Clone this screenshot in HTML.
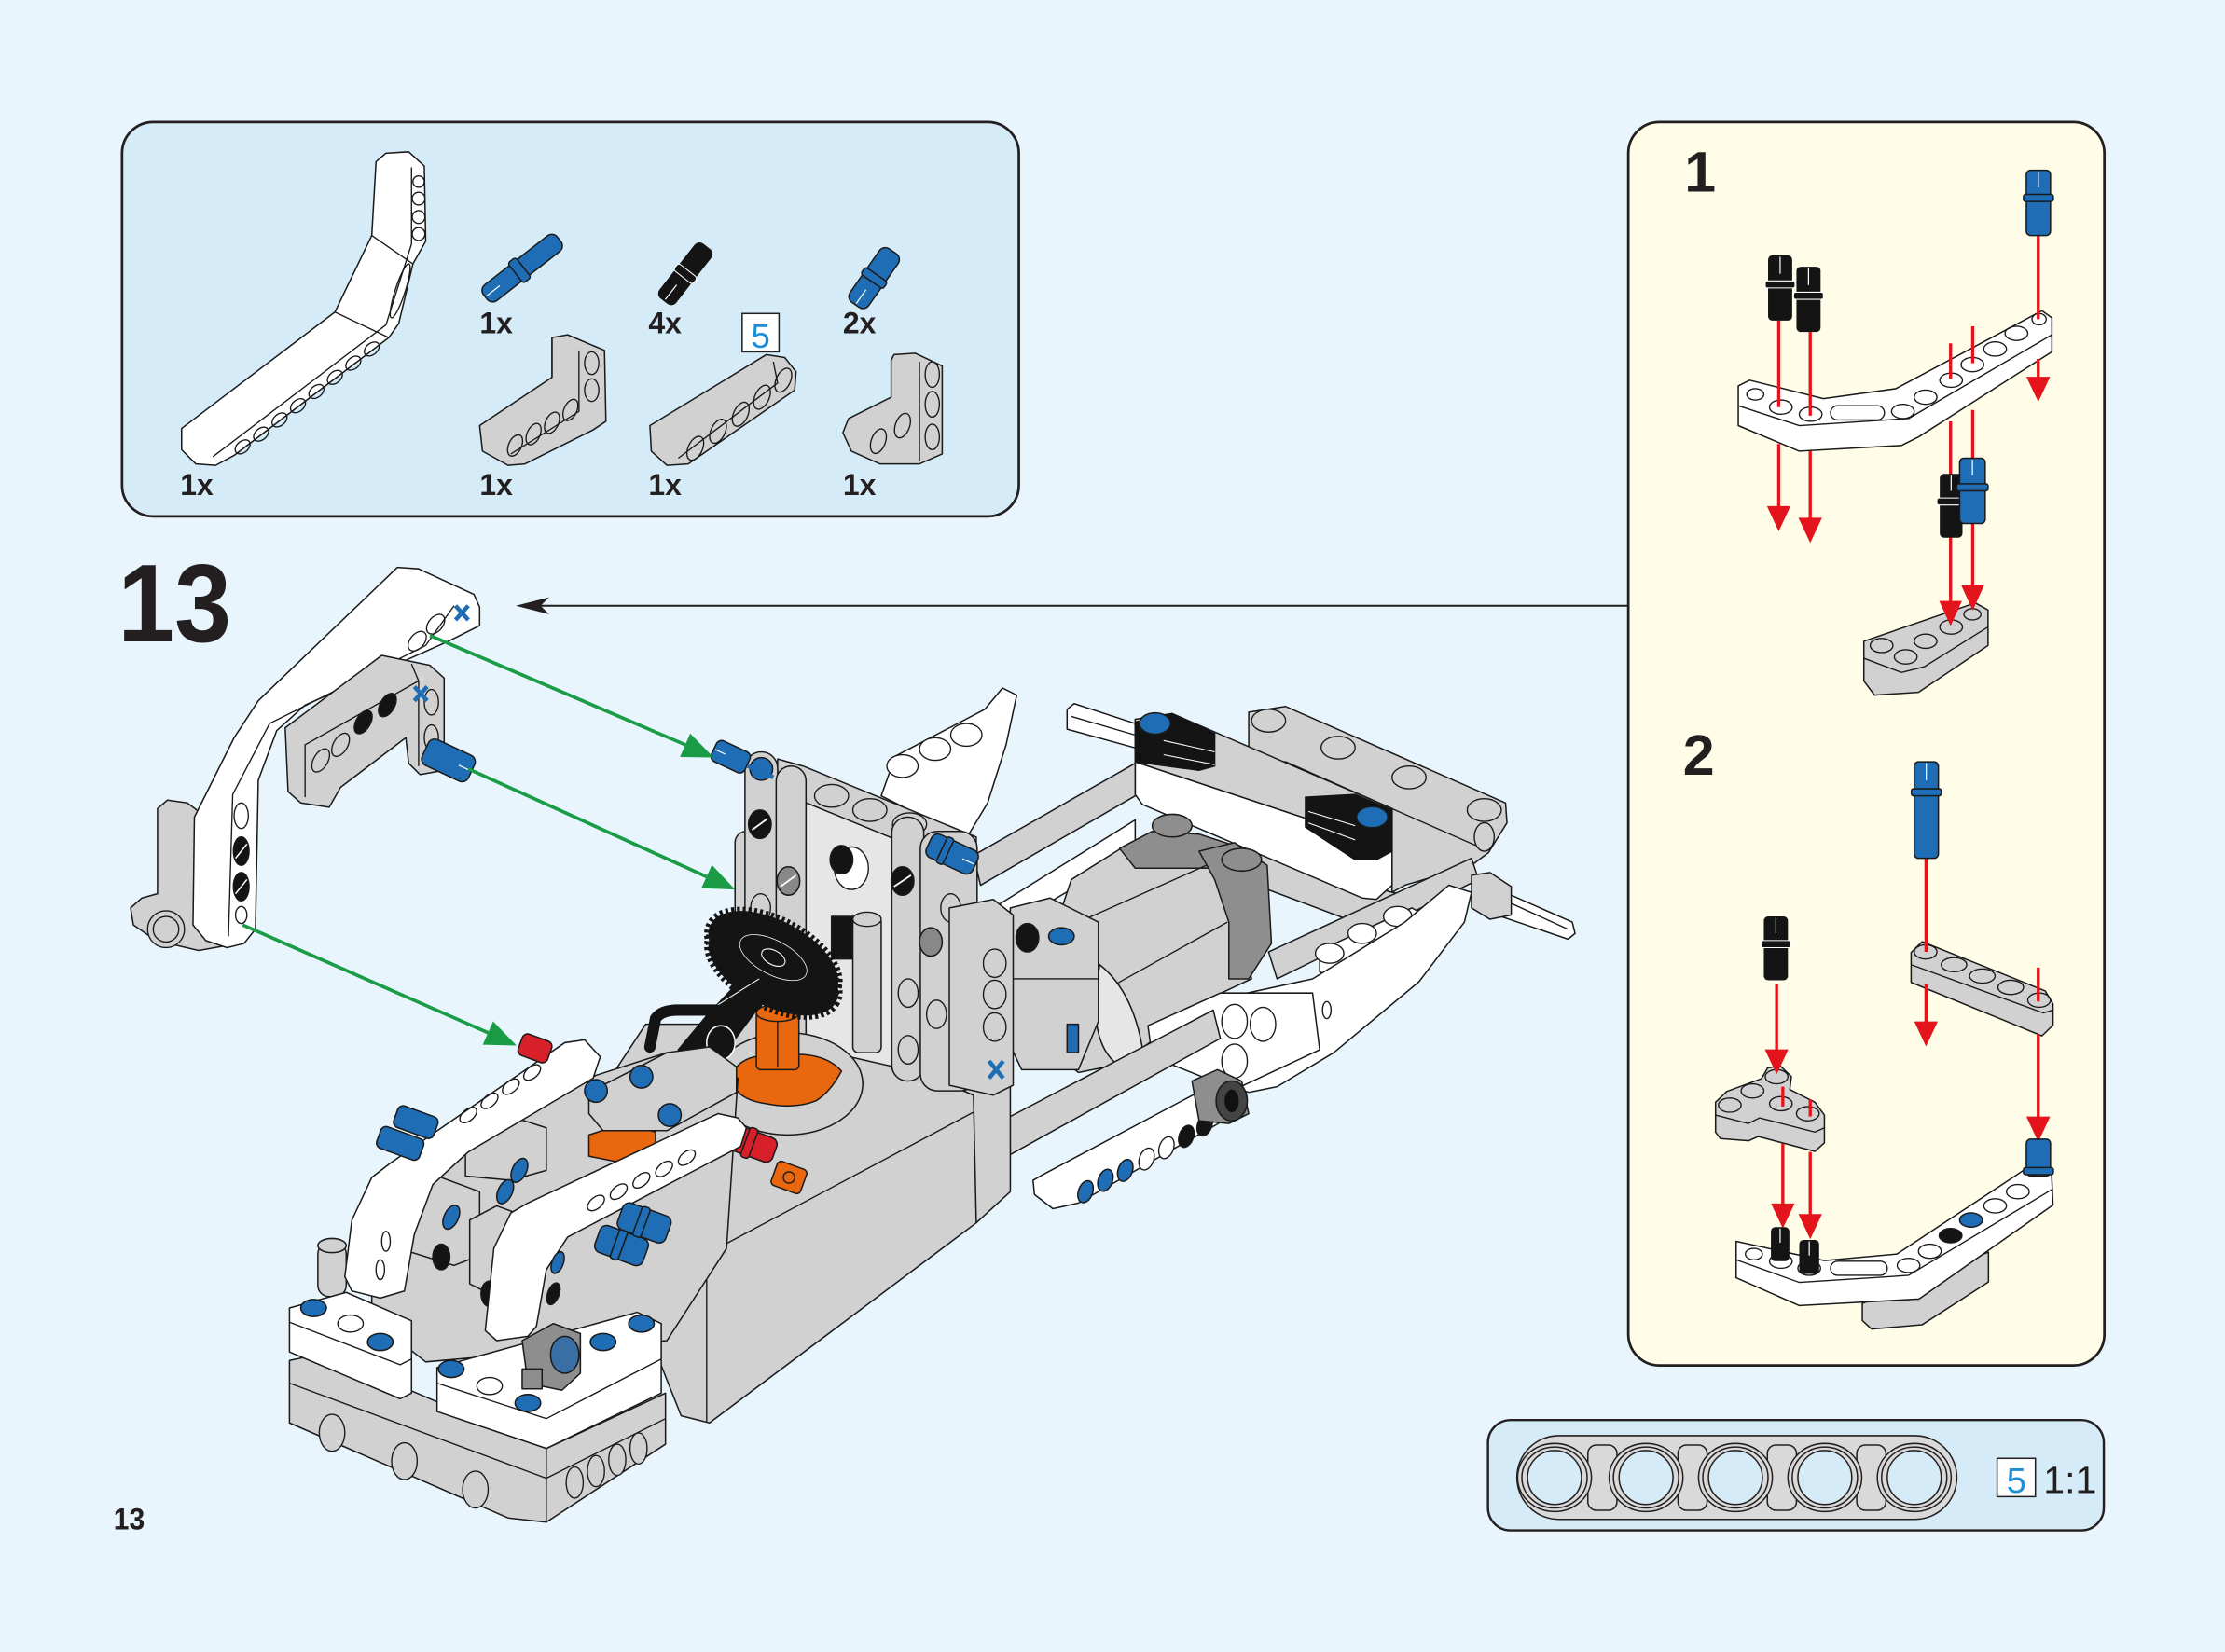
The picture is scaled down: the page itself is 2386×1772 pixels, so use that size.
<!DOCTYPE html>
<html><head><meta charset="utf-8">
<style>
html,body{margin:0;padding:0;background:#e8f5fc;}
svg{display:block}
</style></head><body>
<svg xmlns="http://www.w3.org/2000/svg" width="2386" height="1772" viewBox="0 0 1568 1164.5">
<style>
.o{stroke:#1a1a1a;stroke-width:1;stroke-linejoin:round;stroke-linecap:round}
.g{fill:#d1d1d1}.w{fill:#fff}.k{fill:#141414}.b{fill:#1f6db4}.dg{fill:#8e8e8e}.rd{fill:#d8202a}.or{fill:#e8670f}.lg{fill:#e6e6e6}
.h{fill:none;stroke:#1a1a1a;stroke-width:0.9}
.hw{fill:#fff;stroke:#1a1a1a;stroke-width:0.9}
.hg{fill:#d1d1d1;stroke:#1a1a1a;stroke-width:0.9}
.t{font-family:"Liberation Sans",Arial,sans-serif;font-weight:bold;fill:#231f20}
.ra{stroke:#e3141c;stroke-width:2.2;fill:none}
.rf{fill:#e3141c}
.ga{stroke:#1a9b45;stroke-width:2.4;fill:none}
.gf{fill:#1a9b45}
</style>
<rect width="1568" height="1164.5" fill="#e8f5fc"/>

<!-- ================= PARTS BOX ================= -->
<rect x="86" y="86" width="632" height="278" rx="22" fill="#d5ecf8" stroke="#231f20" stroke-width="1.8"/>
<polygon class="o w" points="265,114 272,108 288,107 299,117 300,170 291,186 281,228 274,238 165,321 152,328 138,327 128,317 128,302 236,220 262,166"/>
<polyline class="h" points="290,118 290,172 272,229 150,322"/>
<line class="h" x1="262" y1="166" x2="291" y2="186"/>
<line class="h" x1="236" y1="220" x2="274" y2="238"/>
<g class="h">
<circle cx="295" cy="128" r="4"/><circle cx="295" cy="140" r="4.5"/><circle cx="295" cy="153" r="4.5"/><circle cx="295" cy="165" r="4.5"/>
<ellipse cx="282" cy="205" rx="3.5" ry="20" transform="rotate(18 282 205)"/>
<ellipse cx="262" cy="246" rx="4" ry="6" transform="rotate(50 262 246)"/>
<ellipse cx="249" cy="256" rx="4" ry="6" transform="rotate(50 249 256)"/>
<ellipse cx="236" cy="266" rx="4" ry="6" transform="rotate(50 236 266)"/>
<ellipse cx="223" cy="276" rx="4" ry="6" transform="rotate(50 223 276)"/>
<ellipse cx="210" cy="286" rx="4" ry="6" transform="rotate(50 210 286)"/>
<ellipse cx="197" cy="296" rx="4" ry="6" transform="rotate(50 197 296)"/>
<ellipse cx="184" cy="306" rx="4" ry="6" transform="rotate(50 184 306)"/>
<ellipse cx="171" cy="315" rx="4" ry="6" transform="rotate(50 171 315)"/>
</g>
<g transform="translate(368,189) rotate(-38)">
<rect class="o b" x="-33" y="-7" width="66" height="14" rx="5"/>
<rect class="o b" x="-6" y="-9" width="7" height="18" rx="2"/>
<line x1="-32" y1="0" x2="-20" y2="0" stroke="#fff" stroke-width="0.8"/>
</g>
<g transform="translate(483,193) rotate(-52)">
<rect x="-24" y="-7" width="48" height="14" rx="4" fill="#141414" stroke="#141414"/>
<rect x="-3" y="-8.5" width="6" height="17" rx="2" fill="#141414" stroke="#fff" stroke-width="0.7"/>
<line x1="-23" y1="0" x2="-10" y2="0" stroke="#fff" stroke-width="0.8"/>
</g>
<g transform="translate(616,196) rotate(-55)">
<rect class="o b" x="-23" y="-8" width="46" height="16" rx="5"/>
<rect class="o b" x="-3" y="-9.5" width="6" height="19" rx="2"/>
<line x1="-22" y1="0" x2="-10" y2="0" stroke="#fff" stroke-width="0.8"/>
</g>
<polygon class="o g" points="389,238 400,236 426,247 427,297 418,303 370,327 358,328 340,318 338,300 389,266"/>
<polyline class="h" points="389,238 389,266"/>
<polyline class="h" points="408,247 408,290 360,320"/>
<g class="h">
<ellipse cx="417" cy="256" rx="5" ry="8"/><ellipse cx="417" cy="275" rx="5" ry="8"/>
<ellipse cx="402" cy="289" rx="4.5" ry="8" transform="rotate(25 402 289)"/>
<ellipse cx="389" cy="298" rx="4.5" ry="8" transform="rotate(25 389 298)"/>
<ellipse cx="376" cy="306" rx="4.5" ry="8" transform="rotate(25 376 306)"/>
<ellipse cx="363" cy="314" rx="4.5" ry="8" transform="rotate(25 363 314)"/>
</g>
<polygon class="o g" points="540,250 553,252 561,262 560,275 485,327 470,328 459,318 458,300"/>
<polyline class="h" points="545,255 548,270 478,323"/>
<g class="h">
<ellipse cx="552" cy="268" rx="5" ry="9" transform="rotate(25 552 268)"/>
<ellipse cx="537" cy="280" rx="5" ry="9" transform="rotate(25 537 280)"/>
<ellipse cx="522" cy="292" rx="5" ry="9" transform="rotate(25 522 292)"/>
<ellipse cx="506" cy="304" rx="5" ry="9" transform="rotate(25 506 304)"/>
<ellipse cx="490" cy="316" rx="5" ry="9" transform="rotate(25 490 316)"/>
</g>
<polygon class="o g" points="630,250 645,249 664,258 664,320 648,327 620,327 600,318 594,305 598,295 628,280 628,254"/>
<polyline class="h" points="648,255 648,325"/>
<g class="h">
<ellipse cx="657" cy="264" rx="5" ry="9"/><ellipse cx="657" cy="285" rx="5" ry="9"/><ellipse cx="657" cy="308" rx="5" ry="9"/>
<ellipse cx="636" cy="300" rx="5" ry="9" transform="rotate(20 636 300)"/>
<ellipse cx="619" cy="311" rx="5" ry="9" transform="rotate(20 619 311)"/>
</g>
<rect x="523" y="221" width="26" height="27" fill="#fff" stroke="#231f20" stroke-width="1"/>
<text x="536" y="245" text-anchor="middle" font-family="Liberation Sans, Arial, sans-serif" font-size="24" fill="#1b8fd8">5</text>
<text class="t" x="338" y="235" font-size="21">1x</text>
<text class="t" x="457" y="235" font-size="21">4x</text>
<text class="t" x="594" y="235" font-size="21">2x</text>
<text class="t" x="127" y="349" font-size="21">1x</text>
<text class="t" x="338" y="349" font-size="21">1x</text>
<text class="t" x="457" y="349" font-size="21">1x</text>
<text class="t" x="594" y="349" font-size="21">1x</text>

<!-- ================= STEP NUMBER ================= -->
<text class="t" x="83" y="452" font-size="78" textLength="80" lengthAdjust="spacingAndGlyphs">13</text>
<text class="t" x="80" y="1078" font-size="21" textLength="22" lengthAdjust="spacingAndGlyphs">13</text>

<!-- ================= RIGHT PANEL ================= -->
<rect x="1147.5" y="86" width="335.5" height="876.5" rx="22" fill="#fffde7" stroke="#231f20" stroke-width="1.8"/>
<text class="t" x="1187" y="135" font-size="40">1</text>
<text class="t" x="1186" y="546" font-size="40">2</text>

<polygon class="o w" points="1225,272 1233,268 1285,281 1336,274 1439,219 1446,224 1446,248 1352,308 1340,314 1268,318 1225,300"/>
<polyline class="h" points="1225,286 1268,300 1345,295 1446,236"/>
<g class="h">
<ellipse cx="1237" cy="278" rx="6" ry="4"/>
<ellipse cx="1255" cy="287" rx="8" ry="5"/><ellipse cx="1276" cy="292" rx="8" ry="5"/>
<rect x="1290" y="286" width="38" height="10" rx="5"/>
<ellipse cx="1341" cy="290" rx="8" ry="5"/><ellipse cx="1357" cy="280" rx="8" ry="5"/>
<ellipse cx="1375" cy="268" rx="8" ry="5"/><ellipse cx="1390" cy="257" rx="8" ry="5"/>
<ellipse cx="1406" cy="246" rx="8" ry="5"/><ellipse cx="1421" cy="235" rx="8" ry="5"/>
<ellipse cx="1437" cy="225" rx="5" ry="4"/>
</g>
<polygon class="o g" points="1313.5,452 1392,425 1401,430 1401,455 1352,488 1321,490 1313.5,480"/>
<polyline class="h" points="1313.5,464 1340,474 1356,470 1401,442"/>
<g class="h">
<ellipse cx="1326" cy="455" rx="8" ry="5"/><ellipse cx="1343" cy="463" rx="8" ry="5"/>
<ellipse cx="1357" cy="452" rx="8" ry="5"/><ellipse cx="1375" cy="442" rx="8" ry="5"/><ellipse cx="1390" cy="433" rx="6" ry="4"/>
</g>
<g class="ra">
<line x1="1436.4" y1="166" x2="1436.4" y2="225"/><line x1="1436.4" y1="253" x2="1436.4" y2="268"/>
<line x1="1253.5" y1="226" x2="1253.5" y2="287"/><line x1="1253.5" y1="313" x2="1253.5" y2="358"/>
<line x1="1275.7" y1="234" x2="1275.7" y2="293"/><line x1="1275.7" y1="318" x2="1275.7" y2="366"/>
<line x1="1374.6" y1="242" x2="1374.6" y2="267"/><line x1="1374.6" y1="297" x2="1374.6" y2="425"/>
<line x1="1390.2" y1="230" x2="1390.2" y2="256"/><line x1="1390.2" y1="289" x2="1390.2" y2="414"/>
</g>
<g class="rf">
<polygon points="1428,265.6 1444.8,265.6 1436.4,283.3"/>
<polygon points="1245.2,356.8 1261.8,356.8 1253.5,374.5"/>
<polygon points="1267.4,365 1284,365 1275.7,382.7"/>
<polygon points="1366.6,423.6 1382.6,423.6 1374.6,441.3"/>
<polygon points="1382.2,412.7 1398.2,412.7 1390.2,430.4"/>
</g>
<g>
<rect class="o b" x="1428" y="120" width="17" height="46" rx="3"/><rect class="o b" x="1426" y="137" width="21" height="5" rx="1.5"/>
<line x1="1436.5" y1="121" x2="1436.5" y2="132" stroke="#fff" stroke-width="0.8"/>
<rect x="1246" y="180" width="17" height="46" rx="3" fill="#141414"/><rect x="1244" y="198" width="21" height="5" rx="1.5" fill="#141414" stroke="#fff" stroke-width="0.7"/>
<line x1="1254.5" y1="181" x2="1254.5" y2="193" stroke="#fff" stroke-width="0.8"/>
<rect x="1266" y="188" width="17" height="46" rx="3" fill="#141414"/><rect x="1264" y="206" width="21" height="5" rx="1.5" fill="#141414" stroke="#fff" stroke-width="0.7"/>
<line x1="1274.5" y1="189" x2="1274.5" y2="201" stroke="#fff" stroke-width="0.8"/>
<rect x="1367" y="334" width="16" height="45" rx="3" fill="#141414"/><rect x="1365" y="351" width="20" height="5" rx="1.5" fill="#141414" stroke="#fff" stroke-width="0.7"/>
<line x1="1375" y1="335" x2="1375" y2="346" stroke="#fff" stroke-width="0.8"/>
<rect class="o b" x="1381" y="323" width="18" height="46" rx="3"/><rect class="o b" x="1379" y="341" width="22" height="5" rx="1.5"/>
<line x1="1390" y1="324" x2="1390" y2="335" stroke="#fff" stroke-width="0.8"/>
</g>

<polygon class="o g" points="1312.4,918.8 1401.3,882.6 1401.3,903.7 1354.6,933.8 1319,936.9 1312.4,930.8"/>
<polygon class="o w" points="1223.5,875 1285.7,888.6 1336.8,884 1428,823.7 1445.7,825 1446.8,849.4 1352.4,915.7 1268,920.3 1223.5,900.7"/>
<polyline class="h" points="1223.5,888 1268,904 1345,899 1446.8,838"/>
<g class="h">
<ellipse cx="1236" cy="884" rx="6" ry="4"/>
<ellipse cx="1255" cy="889" rx="8" ry="5"/><ellipse cx="1275" cy="894" rx="8" ry="5"/>
<rect x="1290" y="889" width="40" height="10" rx="5"/>
<ellipse cx="1345" cy="892" rx="8" ry="5"/><ellipse cx="1360" cy="882" rx="8" ry="5"/>
<ellipse cx="1406" cy="850" rx="8" ry="5"/><ellipse cx="1422" cy="840" rx="8" ry="5"/>
</g>
<ellipse cx="1374.6" cy="871" rx="8" ry="5" class="o k"/>
<ellipse cx="1389" cy="860" rx="8" ry="5" class="o b"/>
<polygon class="o g" points="1209,777 1216.8,769.4 1241.3,760.4 1245.7,752.8 1254.6,751.3 1262.4,758.9 1261.3,768 1279,777 1285.7,786 1285.7,805.6 1279,811.6 1239,801.1 1232.4,804.1 1212.4,802.6 1209,798.1"/>
<polyline class="h" points="1209,786 1232,792 1240,788 1279,798 1285.7,795"/>
<g class="h">
<ellipse cx="1219" cy="779" rx="8" ry="5"/><ellipse cx="1235" cy="769" rx="8" ry="5"/>
<ellipse cx="1252" cy="759" rx="8" ry="5"/><ellipse cx="1255" cy="778" rx="8" ry="5"/><ellipse cx="1274" cy="785" rx="8" ry="5"/>
</g>
<polygon class="o g" points="1346.8,671.4 1354.6,663.8 1441.3,698.5 1446.8,707.6 1446.8,722.7 1439,730.2 1346.8,692.5"/>
<polyline class="h" points="1346.8,680 1440,714 1446.8,712"/>
<g class="h">
<ellipse cx="1357" cy="671" rx="8" ry="5"/><ellipse cx="1377" cy="680" rx="9" ry="5"/>
<ellipse cx="1397" cy="688" rx="9" ry="5"/><ellipse cx="1417" cy="696" rx="9" ry="5"/><ellipse cx="1437" cy="705" rx="8" ry="5"/>
</g>
<g class="ra">
<line x1="1357.3" y1="605" x2="1357.3" y2="671"/><line x1="1357.3" y1="694" x2="1357.3" y2="721"/>
<line x1="1436.4" y1="682" x2="1436.4" y2="706"/><line x1="1436.4" y1="729" x2="1436.4" y2="788"/>
<line x1="1252" y1="694" x2="1252" y2="741"/>
<line x1="1256.4" y1="766" x2="1256.4" y2="780"/><line x1="1256.4" y1="806" x2="1256.4" y2="849"/>
<line x1="1275.7" y1="775" x2="1275.7" y2="787"/><line x1="1275.7" y1="812" x2="1275.7" y2="857"/>
</g>
<g class="rf">
<polygon points="1349,720 1365.6,720 1357.3,737.7"/>
<polygon points="1428,787 1444.8,787 1436.4,805"/>
<polygon points="1243.7,739.7 1260.3,739.7 1252,757.4"/>
<polygon points="1248.1,848.3 1264.7,848.3 1256.4,866"/>
<polygon points="1267.4,855.8 1284,855.8 1275.7,873.5"/>
</g>
<rect class="o b" x="1349" y="537" width="17" height="68" rx="3"/><rect class="o b" x="1347" y="556" width="21" height="5" rx="1.5"/>
<line x1="1357.5" y1="538" x2="1357.5" y2="550" stroke="#fff" stroke-width="0.8"/>
<rect x="1243" y="646" width="17" height="45" rx="3" fill="#141414"/><rect x="1241" y="663" width="21" height="5" rx="1.5" fill="#141414" stroke="#fff" stroke-width="0.7"/>
<line x1="1251.5" y1="647" x2="1251.5" y2="658" stroke="#fff" stroke-width="0.8"/>
<rect class="o b" x="1428" y="803" width="17" height="26" rx="3"/><rect class="o b" x="1426" y="823" width="21" height="5" rx="1.5"/>
<rect x="1248" y="865" width="13" height="24" rx="3" fill="#141414"/>
<line x1="1254.5" y1="866" x2="1254.5" y2="876" stroke="#fff" stroke-width="0.8"/>
<rect x="1268" y="874" width="14" height="24" rx="3" fill="#141414"/>
<line x1="1275" y1="875" x2="1275" y2="885" stroke="#fff" stroke-width="0.8"/>

<!-- ================= BOTTOM 1:1 BOX ================= -->
<rect x="1048.6" y="1001" width="434" height="77.8" rx="16" fill="#d5ecf8" stroke="#231f20" stroke-width="1.6"/>
<rect x="1069" y="1012" width="310" height="59" rx="29.5" fill="#d9d9d9" stroke="#231f20" stroke-width="1"/>
<g stroke="#231f20" stroke-width="1">
<rect x="1119" y="1018.6" width="20.5" height="46" rx="6" fill="#d9d9d9"/>
<rect x="1182.5" y="1018.6" width="20.5" height="46" rx="6" fill="#d9d9d9"/>
<rect x="1245.5" y="1018.6" width="20.5" height="46" rx="6" fill="#d9d9d9"/>
<rect x="1308.5" y="1018.6" width="20.5" height="46" rx="6" fill="#d9d9d9"/>
</g>
<g stroke="#231f20" stroke-width="1">
<ellipse cx="1095.5" cy="1041.5" rx="26" ry="24" fill="#d9d9d9"/><ellipse cx="1095.5" cy="1041.5" rx="23" ry="21.5" fill="none"/><ellipse cx="1095.5" cy="1041.5" rx="19" ry="19" fill="#d5ecf8"/>
<ellipse cx="1160" cy="1041.5" rx="26" ry="24" fill="#d9d9d9"/><ellipse cx="1160" cy="1041.5" rx="23" ry="21.5" fill="none"/><ellipse cx="1160" cy="1041.5" rx="19" ry="19" fill="#d5ecf8"/>
<ellipse cx="1223" cy="1041.5" rx="26" ry="24" fill="#d9d9d9"/><ellipse cx="1223" cy="1041.5" rx="23" ry="21.5" fill="none"/><ellipse cx="1223" cy="1041.5" rx="19" ry="19" fill="#d5ecf8"/>
<ellipse cx="1286" cy="1041.5" rx="26" ry="24" fill="#d9d9d9"/><ellipse cx="1286" cy="1041.5" rx="23" ry="21.5" fill="none"/><ellipse cx="1286" cy="1041.5" rx="19" ry="19" fill="#d5ecf8"/>
<ellipse cx="1349" cy="1041.5" rx="26" ry="24" fill="#d9d9d9"/><ellipse cx="1349" cy="1041.5" rx="23" ry="21.5" fill="none"/><ellipse cx="1349" cy="1041.5" rx="19" ry="19" fill="#d5ecf8"/>
</g>
<rect x="1407.4" y="1028" width="27" height="27" fill="#fff" stroke="#231f20" stroke-width="1"/>
<text x="1421" y="1052" text-anchor="middle" font-family="Liberation Sans, Arial, sans-serif" font-size="25" fill="#1b8fd8">5</text>
<text x="1440" y="1052.5" font-family="Liberation Sans, Arial, sans-serif" font-size="27" fill="#231f20">1:1</text>

<!-- ================= MAIN MODEL ================= -->
<polygon class="o w" points="752,500 757,496 803,511 803,528 752,514"/>
<line class="h" x1="755" y1="505" x2="803" y2="519"/>
<polygon class="o g" points="880,502 906,498 1061,566 1062,580 1049,601 1037,610 990,624 981,629 981,570 906,537 880,537"/>
<g class="hg">
<ellipse cx="894" cy="508" rx="12" ry="8"/><ellipse cx="943" cy="527" rx="12" ry="8"/>
<ellipse cx="993" cy="548" rx="12" ry="8"/><ellipse cx="1046" cy="571" rx="12" ry="8"/>
<ellipse cx="1046" cy="590" rx="7" ry="10"/>
</g>
<polyline class="h" points="906,537 1040,596"/>
<polygon class="o g" points="880,600 981,629 1000,632 990,645 960,652 880,622"/>
<polygon class="o w" points="800,537 981,597 981,624 970,634 960,633 805,567 800,560"/>
<polygon class="o g" points="800,507 826,503 981,570 981,597 800,537"/>
<polygon class="k" stroke="#141414" points="800,509 826,503 856,517 856,540 845,543 800,537"/>
<polygon class="k" stroke="#141414" points="920,562 955,560 981,571 981,600 970,606 955,606 920,583"/>
<g stroke="#fff" stroke-width="0.7">
<line x1="820" y1="522" x2="856" y2="530"/><line x1="820" y1="532" x2="856" y2="539"/>
<line x1="922" y1="572" x2="955" y2="582"/><line x1="922" y1="580" x2="955" y2="592"/>
</g>
<ellipse cx="814" cy="510" rx="11" ry="7.5" class="o b"/>
<ellipse cx="967" cy="576" rx="11" ry="7.5" class="o b"/>
<polygon class="o w" points="706.5,485 716.5,490 709,525 696,566 681,591 621,561 631,533 694,500"/>
<g class="hw">
<ellipse cx="681" cy="518" rx="11" ry="8"/><ellipse cx="659" cy="528" rx="11" ry="8"/><ellipse cx="636" cy="540" rx="11" ry="8"/>
</g>
<polygon class="o w" points="700,640 800,578 800,600 706,656"/>
<polygon class="o g" points="686,603 800,538 800,561 691,624"/>
<polygon class="o g" points="755,620 790,598 850,603 872,640 882,690 850,705 790,750 760,756 740,740 735,700 745,650"/>
<polygon class="o dg" points="789,598 812,586 845,588 870,596 855,612 800,612"/>
<polygon class="o dg" points="845,600 870,594 893,610 896,665 880,690 866,690 866,650 856,620"/>
<polyline class="h" points="760,650 850,610"/>
<polyline class="h" points="775,700 865,650"/>
<ellipse class="o dg" cx="826" cy="582" rx="14" ry="8"/>
<ellipse class="o dg" cx="875" cy="606" rx="14" ry="8"/>
<path class="o lg" d="M775,680 Q800,700 806,745 L790,752 Q770,740 772,700 Z"/>
<polygon class="o g" points="894,671 1037,605 1042,620 900,690"/>
<polygon class="o w" points="930,670 995,640 1004,645 1004,660 940,690 930,685"/>
<g class="hw"><ellipse cx="937" cy="672" rx="10" ry="7"/><ellipse cx="960" cy="658" rx="10" ry="7"/><ellipse cx="985" cy="646" rx="10" ry="7"/></g>
<polygon class="o w" points="1040,620 1108,650 1110,658 1105,662 1040,640"/>
<line class="h" x1="1050" y1="630" x2="1105" y2="655"/>
<polygon class="o g" points="1037,617 1050,615 1065,625 1065,645 1050,648 1037,640"/>
<polygon class="o w" points="1021,624 1037,629 1032,650 1000,692 940,742 900,766 880,770 858,763 856,705 925,690 990,650"/>
<polygon class="o w" points="809,723 860,700 925,700 930,740 870,768 812,745"/>
<g class="hw"><ellipse cx="870" cy="720" rx="9" ry="12"/><ellipse cx="890" cy="722" rx="9" ry="12"/><ellipse cx="870" cy="748" rx="9" ry="12"/><ellipse cx="935" cy="712" rx="3" ry="6"/></g>
<polygon class="o g" points="672,808 855,712 860,732 690,826"/>
<polygon class="o w" points="735,828 848,768 858,772 862,790 760,848 742,852 729,842 728,832"/>
<g>
<ellipse cx="765" cy="840" rx="5" ry="8" class="o b" transform="rotate(20 765 840)"/>
<ellipse cx="779" cy="832" rx="5" ry="8" class="o b" transform="rotate(20 779 832)"/>
<ellipse cx="793" cy="825" rx="5" ry="8" class="o b" transform="rotate(20 793 825)"/>
<ellipse cx="808" cy="817" rx="5" ry="8" class="hw" transform="rotate(20 808 817)"/>
<ellipse cx="822" cy="809" rx="5" ry="8" class="hw" transform="rotate(20 822 809)"/>
<ellipse cx="836" cy="801" rx="5" ry="8" class="o k" transform="rotate(20 836 801)"/>
<ellipse cx="849" cy="793" rx="5" ry="8" class="o k" transform="rotate(20 849 793)"/>
</g>
<polygon class="o dg" points="840,762 858,754 875,762 880,785 866,792 845,790"/>
<ellipse cx="868" cy="776" rx="11" ry="14" fill="#444" stroke="#1a1a1a"/>
<ellipse cx="868" cy="776" rx="5" ry="8" fill="#111"/>
<polygon class="o g" points="712,640 740,633 774,650 774,720 760,754 720,754 711,735"/>
<ellipse cx="748" cy="660" rx="9" ry="6" class="o b"/>
<polyline class="h" points="712,690 774,690"/>
<rect class="o b" x="752" y="722" width="8" height="20"/>
<polygon class="o g" points="668,770 712,760 712,840 688,862 668,855"/>
<polygon class="o g" points="455,722 520,722 600,735 686,772 688,862 500,1003 480,998 465,960 430,760"/>
<polyline class="h" points="498,884 686,784"/>
<line class="h" x1="498" y1="884" x2="498" y2="1002"/>
<rect class="o g" x="518" y="586" width="50" height="163" rx="8"/>
<polygon class="o lg" points="568,560 630,585 630,752 568,738"/>
<rect class="o k" x="586" y="646" width="15" height="30"/>
<rect class="o g" x="601" y="646" width="20" height="96" rx="4"/>
<ellipse class="hg" cx="611" cy="648" rx="10" ry="5"/>
<ellipse class="hw" cx="600" cy="612" rx="12" ry="15"/>
<polygon class="o g" points="548,535 566,540 688,590 688,615 566,565 548,560"/>
<g class="hg"><ellipse cx="586" cy="561" rx="12" ry="8"/><ellipse cx="613" cy="571" rx="12" ry="8"/><ellipse cx="641" cy="581" rx="12" ry="8"/></g>
<rect class="o g" x="525" y="530" width="23" height="182" rx="11.5"/>
<rect class="o g" x="547" y="540" width="21" height="172" rx="10.5"/>
<rect class="o g" x="628.5" y="576" width="22.5" height="186" rx="11"/>
<rect class="o g" x="648.6" y="586" width="40" height="183" rx="12"/>
<g>
<circle cx="536.5" cy="542" r="8" fill="#1f6db4" stroke="#1a1a1a"/>
<ellipse cx="535.5" cy="581" rx="8" ry="10" class="o k"/><line x1="530" y1="585" x2="541" y2="577" stroke="#fff" stroke-width="1.2"/>
<ellipse cx="555.6" cy="621" rx="8" ry="10" fill="#888" stroke="#1a1a1a"/><line x1="550" y1="625" x2="561" y2="617" stroke="#fff" stroke-width="1.2"/>
<ellipse cx="593" cy="606" rx="8" ry="10" class="o k"/>
<ellipse cx="636" cy="621" rx="8" ry="10" class="o k"/><line x1="630" y1="625" x2="642" y2="617" stroke="#fff" stroke-width="1.2"/>
<ellipse cx="656" cy="664" rx="8" ry="10" fill="#888" stroke="#1a1a1a"/>
<ellipse cx="536" cy="640" rx="7" ry="10" class="h"/><ellipse cx="536" cy="680" rx="7" ry="10" class="h"/>
<ellipse cx="557" cy="670" rx="7" ry="10" class="h"/><ellipse cx="670" cy="640" rx="7" ry="10" class="h"/>
<ellipse cx="640" cy="700" rx="7" ry="10" class="h"/><ellipse cx="660" cy="715" rx="7" ry="10" class="h"/>
<ellipse cx="640" cy="740" rx="7" ry="10" class="h"/>
</g>
<polygon class="o g" points="669,640 700,634 714,645 714,765 700,772 669,765"/>
<g class="hg"><ellipse cx="701" cy="679" rx="8" ry="10"/><ellipse cx="701" cy="701" rx="8" ry="10"/><ellipse cx="701" cy="724" rx="8" ry="10"/></g>
<path d="M697,748 L707,760 M707,748 L697,760" stroke="#1f6db4" stroke-width="3"/>
<ellipse cx="724" cy="661" rx="8" ry="10" class="o k"/>
<g transform="translate(514,533) rotate(25)"><rect class="o b" x="-12" y="-8" width="26" height="16" rx="4"/><line x1="-11" y1="0" x2="-3" y2="0" stroke="#fff" stroke-width="0.8"/></g>
<line x1="527" y1="540" x2="545" y2="548" stroke="#1f6db4" stroke-width="3"/>
<g transform="translate(671,602) rotate(25)"><rect class="o b" x="-18" y="-9" width="36" height="18" rx="5"/><rect class="o b" x="-8" y="-10" width="5" height="20" rx="1.5"/><line x1="8" y1="0" x2="17" y2="0" stroke="#fff" stroke-width="0.8"/></g>
<ellipse class="o g" cx="555" cy="764" rx="53" ry="36"/>
<path class="o or" d="M515,760 Q520,742 548,744 Q580,740 593,755 Q585,770 575,776 Q560,782 540,778 Q518,775 515,760 Z"/>
<rect class="o or" x="533" y="712" width="30" height="42" rx="3"/>
<ellipse class="o or" cx="548" cy="714" rx="15" ry="6"/>
<line class="h" x1="548" y1="720" x2="548" y2="752"/>
<!-- gear -->
<g transform="translate(545,683) rotate(28)">
<ellipse rx="50" ry="26" fill="#141414" stroke="#141414" stroke-width="6" stroke-dasharray="2 2"/>
</g>
<g transform="translate(545,675) rotate(28)">
<ellipse rx="50" ry="26" fill="#141414" stroke="#141414" stroke-width="6" stroke-dasharray="2 2"/>
<ellipse rx="26" ry="12" fill="none" stroke="#fff" stroke-width="0.5"/>
<ellipse rx="9" ry="5" fill="#141414" stroke="#fff" stroke-width="0.7"/>
</g>
<polygon points="530,682 548,692 508,746 490,750 478,740 498,716" fill="#141414" stroke="#141414"/>
<ellipse cx="508" cy="735" rx="10" ry="12" fill="#141414" stroke="#fff" stroke-width="1"/>
<line x1="500" y1="712" x2="535" y2="690" stroke="#fff" stroke-width="0.7"/>
<path d="M458,738 L462,718 Q466,712 478,712 L505,712" fill="none" stroke="#141414" stroke-width="8" stroke-linecap="round"/>
<g transform="translate(529,806) rotate(20)"><rect class="o rd" x="-18" y="-9" width="36" height="18" rx="5"/><rect class="o rd" x="-4" y="-11" width="6" height="22" rx="2"/></g>
<g transform="translate(556,830) rotate(20)"><rect class="o or" x="-11" y="-9" width="22" height="18" rx="3"/><circle cx="0" cy="0" r="4" class="h"/></g>

<!-- ===== FRONT ASSEMBLY ===== -->
<polygon class="o g" points="262,870 300,822 420,758 470,742 520,760 512,880 470,945 300,960 262,930"/>
<polygon class="o or" points="415,800 440,792 462,798 462,815 440,820 415,815"/>
<rect class="o g" x="224" y="876" width="20" height="38" rx="8"/>
<ellipse class="o g" cx="234" cy="878" rx="10" ry="5"/>
<polygon class="o g" points="204,959 228,954 385,1021 469,982 469,1018 385,1073 358,1070 204,1003"/>
<polyline class="h" points="204,975 385,1042 469,1000"/>
<line class="h" x1="385" y1="1021" x2="385" y2="1073"/>
<g class="hg">
<ellipse cx="234" cy="1010" rx="9" ry="13"/><ellipse cx="285" cy="1030" rx="9" ry="13"/><ellipse cx="335" cy="1050" rx="9" ry="13"/>
<ellipse cx="405" cy="1045" rx="6" ry="11"/><ellipse cx="420" cy="1037" rx="6" ry="11"/><ellipse cx="435" cy="1029" rx="6" ry="11"/><ellipse cx="450" cy="1021" rx="6" ry="11"/>
</g>
<polygon class="o w" points="204,922 244,911 290,931 290,982 282,986 204,953"/>
<polyline class="h" points="204,932 282,962 290,958"/>
<ellipse cx="221" cy="922" rx="9" ry="6" class="o b"/>
<ellipse cx="268" cy="946" rx="9" ry="6" class="o b"/>
<ellipse cx="247" cy="933" rx="9" ry="6" class="hw"/>
<polygon class="o g" points="281,840 300,826 338,840 338,885 320,892 281,880"/>
<polygon class="o g" points="328,800 360,787 385,795 385,825 360,832 328,829"/>
<polygon class="o g" points="331,860 350,850 372,858 372,912 355,917 331,905"/>
<ellipse cx="311" cy="886" rx="6" ry="9" class="o k"/>
<ellipse cx="345" cy="912" rx="6" ry="9" class="o k"/>
<ellipse cx="318" cy="858" rx="5" ry="9" class="o b" transform="rotate(25 318 858)"/>
<ellipse cx="356" cy="840" rx="5" ry="9" class="o b" transform="rotate(25 356 840)"/>
<ellipse cx="366" cy="825" rx="5" ry="9" class="o b" transform="rotate(25 366 825)"/>
<polygon class="o g" points="415,770 470,742 500,738 519,752 519,770 470,797 425,797 415,785"/>
<circle cx="420" cy="769" r="8" class="o b"/><circle cx="452" cy="759" r="8" class="o b"/><circle cx="472" cy="786" r="8" class="o b"/>
<polygon class="o w" points="243,900 248,860 262,830 275,820 398,735 412,733 423,745 418,760 330,812 305,835 292,870 285,910 268,915 248,910"/>
<g class="h">
<ellipse cx="330" cy="786" rx="4" ry="7" transform="rotate(50 330 786)"/>
<ellipse cx="345" cy="776" rx="4" ry="7" transform="rotate(50 345 776)"/>
<ellipse cx="360" cy="766" rx="4" ry="7" transform="rotate(50 360 766)"/>
<ellipse cx="375" cy="756" rx="4" ry="7" transform="rotate(50 375 756)"/>
<ellipse cx="272" cy="875" rx="3" ry="7"/><ellipse cx="268" cy="895" rx="3" ry="7"/>
</g>
<polygon class="o w" points="308,964 449,925 466,933 466,982 385,1021 308,995"/>
<polyline class="h" points="308,975 385,1000 466,958"/>
<ellipse cx="318" cy="965" rx="9" ry="6" class="o b"/>
<ellipse cx="372" cy="989" rx="9" ry="6" class="o b"/>
<ellipse cx="425" cy="946" rx="9" ry="6" class="o b"/>
<ellipse cx="452" cy="933" rx="9" ry="6" class="o b"/>
<ellipse cx="345" cy="977" rx="9" ry="6" class="hw"/>
<ellipse cx="399" cy="959" rx="9" ry="6" class="hw"/>
<polygon class="o w" points="342,938 348,880 360,855 372,848 506,785 520,788 526,795 522,808 400,872 385,895 378,935 372,942 350,945"/>
<g class="h">
<ellipse cx="420" cy="848" rx="4" ry="7" transform="rotate(50 420 848)"/>
<ellipse cx="436" cy="840" rx="4" ry="7" transform="rotate(50 436 840)"/>
<ellipse cx="452" cy="832" rx="4" ry="7" transform="rotate(50 452 832)"/>
<ellipse cx="468" cy="824" rx="4" ry="7" transform="rotate(50 468 824)"/>
<ellipse cx="484" cy="816" rx="4" ry="7" transform="rotate(50 484 816)"/>
</g>
<ellipse cx="393" cy="890" rx="4" ry="8" class="o b" transform="rotate(20 393 890)"/>
<ellipse cx="390" cy="912" rx="4" ry="8" class="o k" transform="rotate(20 390 912)"/>
<polygon class="o dg" points="368,945 390,933 409,940 409,968 396,980 372,975"/>
<ellipse cx="398" cy="955" rx="10" ry="13" fill="#3a6fa5" stroke="#1a1a1a"/>
<rect class="o dg" x="368" y="965" width="14" height="14"/>
<g transform="translate(282,806) rotate(20)"><rect class="o b" x="-16" y="-8" width="32" height="16" rx="4"/></g>
<g transform="translate(293,791) rotate(20)"><rect class="o b" x="-15" y="-8" width="30" height="16" rx="4"/></g>
<g transform="translate(438,878) rotate(20)"><rect class="o b" x="-18" y="-10" width="36" height="20" rx="5"/><rect class="o b" x="-5" y="-11" width="6" height="22" rx="2"/></g>
<g transform="translate(454,862) rotate(20)"><rect class="o b" x="-18" y="-10" width="36" height="20" rx="5"/><rect class="o b" x="-5" y="-11" width="6" height="22" rx="2"/></g>
<g transform="translate(377,739) rotate(20)"><rect class="o rd" x="-11" y="-8" width="22" height="16" rx="4"/></g>

<!-- ===== DETACHED ASSEMBLY ===== -->
<polygon class="o g" points="111,570 118,564 132,566 140,572 140,632 165,640 172,650 168,665 140,670 110,663 94,652 92,640 100,633 111,630"/>
<circle cx="117" cy="655" r="13" class="hg"/>
<circle cx="117" cy="655" r="9" class="h"/>
<polygon class="o g" points="271,410 280,402 292,405 292,436 271,436"/>
<polygon class="o w" points="280,400 295,401 334,419 338,428 338,441 316,452 215,497 195,515 182,550 180,655 172,665 160,668 145,663 136,652 137,576 165,520 182,494"/>
<polyline class="h" points="320,427 300,455 190,510 164,560 161,660"/>
<g class="h">
<ellipse cx="307" cy="440" rx="5" ry="8" transform="rotate(40 307 440)"/>
<ellipse cx="294" cy="452" rx="5" ry="8" transform="rotate(40 294 452)"/>
<ellipse cx="170" cy="575" rx="5" ry="9"/>
<ellipse cx="170" cy="645" rx="4" ry="6"/>
</g>
<ellipse cx="170" cy="600" rx="5.5" ry="10" class="o k"/><line x1="166" y1="605" x2="174" y2="595" stroke="#fff" stroke-width="1"/>
<ellipse cx="170" cy="625" rx="5.5" ry="10" class="o k"/><line x1="166" y1="630" x2="174" y2="620" stroke="#fff" stroke-width="1"/>
<path d="M321,427 L330,437 M330,427 L321,437" stroke="#1f6db4" stroke-width="3"/>
<polygon class="o g" points="269,462 303,469 313,478 313,543 296,546 288,538 286,520 240,555 232,569 212,566 203,558 201,513"/>
<polyline class="h" points="290,468 295,480 295,540"/>
<polyline class="h" points="295,480 215,525 215,562"/>
<g class="h">
<ellipse cx="304" cy="495" rx="5" ry="9"/><ellipse cx="304" cy="520" rx="5" ry="9"/>
<ellipse cx="240" cy="525" rx="5" ry="9" transform="rotate(30 240 525)"/>
<ellipse cx="226" cy="536" rx="5" ry="9" transform="rotate(30 226 536)"/>
</g>
<ellipse cx="273" cy="497" rx="5" ry="9" class="o k" transform="rotate(30 273 497)"/>
<ellipse cx="256" cy="509" rx="5" ry="9" class="o k" transform="rotate(30 256 509)"/>
<path d="M292,484 L301,494 M301,484 L292,494" stroke="#1f6db4" stroke-width="3"/>
<g transform="translate(316,536) rotate(25)"><rect class="o b" x="-18" y="-10" width="36" height="20" rx="5"/><line x1="8" y1="0" x2="17" y2="0" stroke="#fff" stroke-width="0.8"/></g>

<!-- green arrows -->
<line class="ga" x1="303" y1="448" x2="483" y2="525"/>
<polygon class="gf" points="503,534 486.4,517 479.2,533.6"/>
<line class="ga" x1="330" y1="542" x2="498" y2="618"/>
<polygon class="gf" points="518,627 501.7,609.7 494.2,626.1"/>
<line class="ga" x1="171" y1="652" x2="344" y2="728"/>
<polygon class="gf" points="364,737 347.5,719.9 340.2,736.4"/>

<!-- black arrow -->
<line x1="1147" y1="427" x2="378" y2="427" stroke="#231f20" stroke-width="1.3"/>
<polygon points="363.5,427 387,421 381,427 387,433" fill="#231f20"/>
</svg>
</body></html>
